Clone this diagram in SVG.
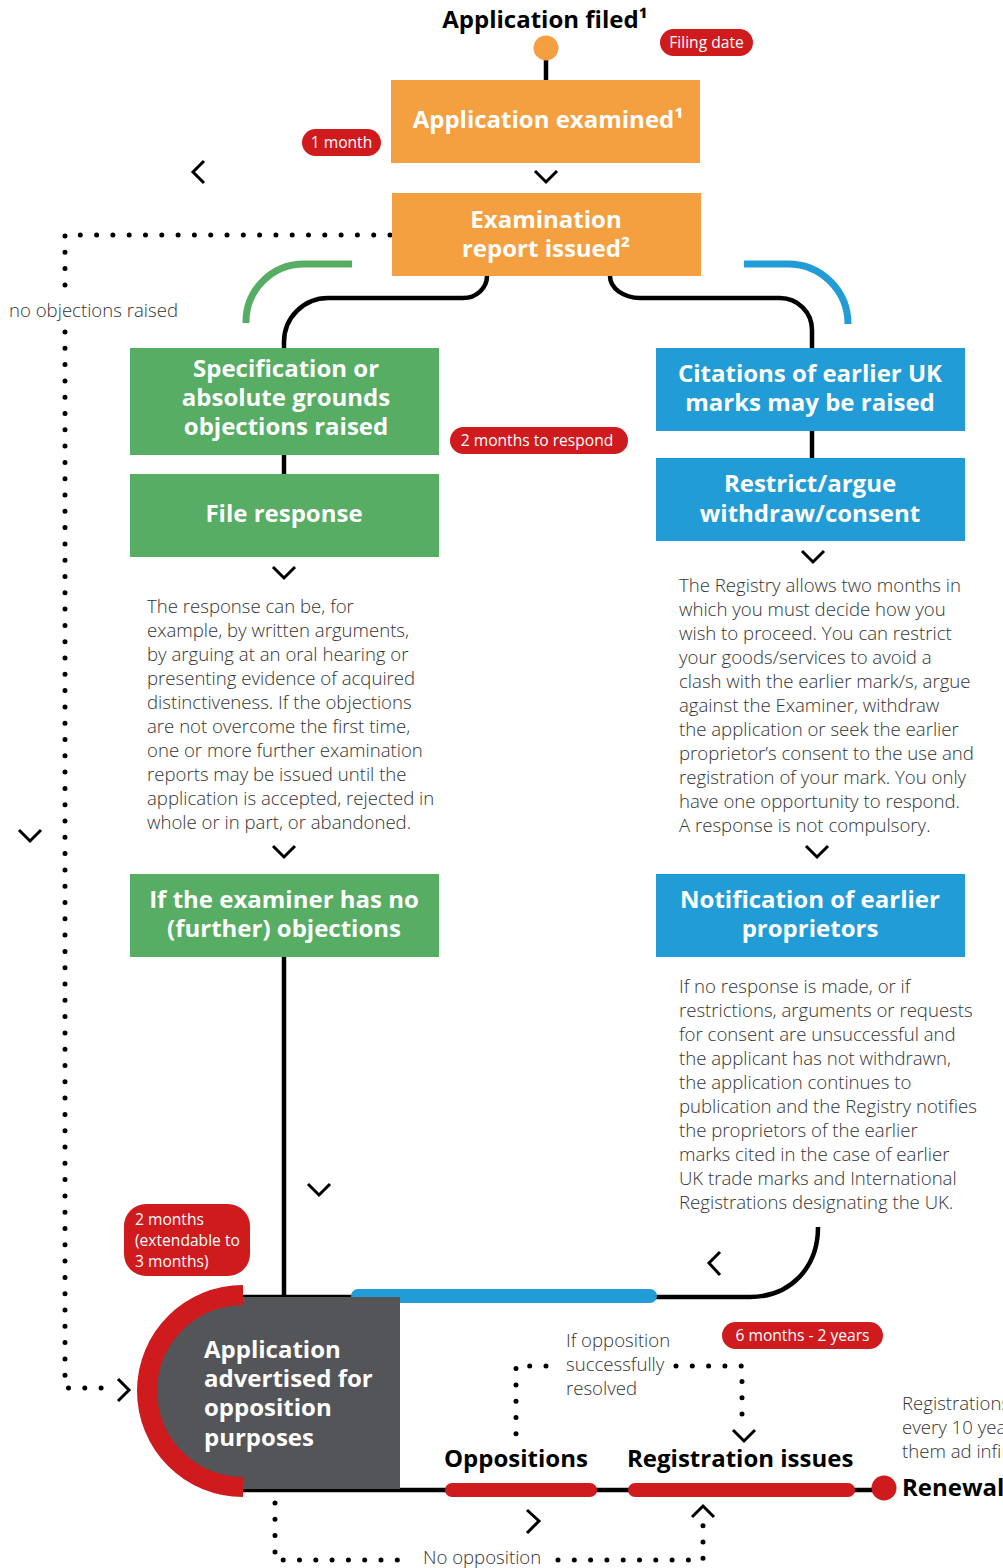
<svg xmlns="http://www.w3.org/2000/svg" width="1003" height="1568" viewBox="0 0 1003 1568">
<style>
.h{font-family:"Open Sans","Noto Sans","Liberation Sans",sans-serif;font-weight:700;fill:#fff;font-size:24px;text-anchor:middle}
.hs{font-family:"Open Sans","Noto Sans","Liberation Sans",sans-serif;font-weight:700;fill:#fff;font-size:24px;text-anchor:start}
.hb{font-family:"Open Sans","Noto Sans","Liberation Sans",sans-serif;font-weight:700;fill:#000;font-size:24px}
.p{font-family:"Open Sans","Noto Sans","Liberation Sans",sans-serif;font-weight:300;fill:#333;font-size:18.6px}
.pill{font-family:"Open Sans","Noto Sans","Liberation Sans",sans-serif;font-weight:400;fill:#fff;font-size:15.6px}
.chev{fill:none;stroke:#000;stroke-width:3}
.dot{fill:none;stroke:#000;stroke-width:5;stroke-linecap:round;stroke-dasharray:0 16.3}
.ln{fill:none;stroke:#000;stroke-width:4.5}
.or{fill:#f5a040}.gr{fill:#57ad64}.bl{fill:#229cd6}.rd{fill:#cf1a1e}
</style>

<g id="connectors">
<line class="ln" x1="546" y1="50" x2="546" y2="80"/>
<path class="ln" d="M487,276 A24,22 0 0 1 463,298 L328,298 A44,44 0 0 0 284,342 L284,348"/>
<path class="ln" d="M610,276 A30,22 0 0 0 640,298 L780,298 A32,32 0 0 1 812,330 L812,348"/>
<path d="M246,323 A58,58 0 0 1 304,264 L352,264" fill="none" stroke="#57ad64" stroke-width="7"/>
<path d="M744,264 L788,264 A60,60 0 0 1 848,324" fill="none" stroke="#229cd6" stroke-width="7"/>
<line class="ln" x1="284" y1="455" x2="284" y2="474"/>
<line class="ln" x1="812" y1="431" x2="812" y2="458"/>
<line class="ln" x1="284" y1="957" x2="284" y2="1297"/>
<path class="ln" d="M818,1227 C818,1268 790,1297 750,1297 L650,1297"/>
<line class="ln" x1="243" y1="1297" x2="360" y2="1297"/>
<line x1="358" y1="1296" x2="650" y2="1296" stroke="#229cd6" stroke-width="14" stroke-linecap="round"/>
<line class="ln" x1="243" y1="1490" x2="884" y2="1490"/>
<line x1="452" y1="1490" x2="590" y2="1490" stroke="#cf1a1e" stroke-width="14" stroke-linecap="round"/>
<line x1="635" y1="1490" x2="848" y2="1490" stroke="#cf1a1e" stroke-width="14" stroke-linecap="round"/>
<path class="dot" d="M390,235 L65,235 L65,300"/>
<path class="dot" d="M65,332 L65,1388 L115,1388"/>
<path class="dot" d="M546,1366 L516,1366 L516,1440"/>
<path class="dot" d="M676,1366 L742,1366 L742,1420"/>
<path class="dot" d="M275,1503 L275,1560 L412,1560"/>
<path class="dot" d="M558,1560 L703,1560 L703,1524"/>
<polyline class="chev" points="535,171 546,182 557,171"/>
<polyline class="chev" points="204,161 193,172 204,183"/>
<polyline class="chev" points="273,567 284,578 295,567"/>
<polyline class="chev" points="273,846 284,857 295,846"/>
<polyline class="chev" points="802,551 813,562 824,551"/>
<polyline class="chev" points="806,846 817,857 828,846"/>
<polyline class="chev" points="19,830 30,841 41,830"/>
<polyline class="chev" points="308,1184 319,1195 330,1184"/>
<polyline class="chev" points="720,1252 709,1263 720,1275"/>
<polyline class="chev" points="118,1379 129,1390 118,1401"/>
<polyline class="chev" points="527,1510 539,1521 527,1533"/>
<polyline class="chev" points="733,1430 744,1441 755,1430"/>
<polyline class="chev" points="692,1517 703,1506 714,1517"/>
</g>

<g id="app-filed">
<text class="hb" x="545" y="28" text-anchor="middle" font-size="23">Application filed¹</text>
<circle cx="546" cy="48" r="12.5" class="or"/>
</g>
<g id="filing-date"><rect x="660" y="29" width="93" height="27" rx="13.5" class="rd"/><text class="pill" x="706.5" y="48" text-anchor="middle">Filing date</text></g>
<g id="one-month"><rect x="302" y="129" width="79" height="27" rx="13.5" class="rd"/><text class="pill" x="341.5" y="148" text-anchor="middle">1 month</text></g>

<g id="examined"><rect x="391" y="80" width="309" height="83" class="or"/><text class="h" x="548" y="128">Application examined¹</text></g>
<g id="report"><rect x="392" y="193" width="309" height="83" class="or"/><text class="h" x="546" y="228">Examination</text><text class="h" x="546" y="257">report issued²</text></g>

<text class="p" x="9" y="317">no objections raised</text>

<g id="spec"><rect x="130" y="348" width="309" height="107" class="gr"/><text class="h" x="286" y="377">Specification or</text><text class="h" x="286" y="406">absolute grounds</text><text class="h" x="286" y="435">objections raised</text></g>
<g id="two-months"><rect x="450" y="427" width="178" height="27" rx="13.5" class="rd"/><text class="pill" x="537" y="446" text-anchor="middle">2 months to respond</text></g>
<g id="file-response"><rect x="130" y="474" width="309" height="83" class="gr"/><text class="h" x="284" y="522">File response</text></g>
<g id="left-text">
<text class="p" x="147" y="613">The response can be, for</text>
<text class="p" x="147" y="637">example, by written arguments,</text>
<text class="p" x="147" y="661">by arguing at an oral hearing or</text>
<text class="p" x="147" y="685">presenting evidence of acquired</text>
<text class="p" x="147" y="709">distinctiveness. If the objections</text>
<text class="p" x="147" y="733">are not overcome the first time,</text>
<text class="p" x="147" y="757">one or more further examination</text>
<text class="p" x="147" y="781">reports may be issued until the</text>
<text class="p" x="147" y="805">application is accepted, rejected in</text>
<text class="p" x="147" y="829">whole or in part, or abandoned.</text>
</g>
<g id="no-further"><rect x="130" y="874" width="309" height="83" class="gr"/><text class="h" x="284" y="908">If the examiner has no</text><text class="h" x="284" y="937">(further) objections</text></g>

<g id="citations"><rect x="656" y="348" width="309" height="83" class="bl"/><text class="h" x="810" y="382">Citations of earlier UK</text><text class="h" x="810" y="411">marks may be raised</text></g>
<g id="restrict"><rect x="656" y="458" width="309" height="83" class="bl"/><text class="h" x="810" y="492">Restrict/argue</text><text class="h" x="810" y="522">withdraw/consent</text></g>
<g id="right-text">
<text class="p" x="679" y="592">The Registry allows two months in</text>
<text class="p" x="679" y="616">which you must decide how you</text>
<text class="p" x="679" y="640">wish to proceed. You can restrict</text>
<text class="p" x="679" y="664">your goods/services to avoid a</text>
<text class="p" x="679" y="688">clash with the earlier mark/s, argue</text>
<text class="p" x="679" y="712">against the Examiner, withdraw</text>
<text class="p" x="679" y="736">the application or seek the earlier</text>
<text class="p" x="679" y="760">proprietor’s consent to the use and</text>
<text class="p" x="679" y="784">registration of your mark. You only</text>
<text class="p" x="679" y="808">have one opportunity to respond.</text>
<text class="p" x="679" y="832">A response is not compulsory.</text>
</g>
<g id="notification"><rect x="656" y="874" width="309" height="83" class="bl"/><text class="h" x="810" y="908">Notification of earlier</text><text class="h" x="810" y="937">proprietors</text></g>
<g id="notif-text">
<text class="p" x="679" y="993">If no response is made, or if</text>
<text class="p" x="679" y="1017">restrictions, arguments or requests</text>
<text class="p" x="679" y="1041">for consent are unsuccessful and</text>
<text class="p" x="679" y="1065">the applicant has not withdrawn,</text>
<text class="p" x="679" y="1089">the application continues to</text>
<text class="p" x="679" y="1113">publication and the Registry notifies</text>
<text class="p" x="679" y="1137">the proprietors of the earlier</text>
<text class="p" x="679" y="1161">marks cited in the case of earlier</text>
<text class="p" x="679" y="1185">UK trade marks and International</text>
<text class="p" x="679" y="1209">Registrations designating the UK.</text>
</g>

<g id="two-three-months"><rect x="124" y="1204" width="126" height="72" rx="22" class="rd"/>
<text class="pill" x="135" y="1225">2 months</text><text class="pill" x="135" y="1246">(extendable to</text><text class="pill" x="135" y="1267">3 months)</text></g>

<g id="advertised">
<path d="M243,1297 A96,96 0 0 0 243,1489 L400,1489 L400,1297 Z" fill="#535559"/>
<path d="M243,1285 A106,106 0 0 0 243,1497 L243,1477 A86,86 0 0 1 243,1305 Z" class="rd"/>
<text class="hs" x="204" y="1358">Application</text>
<text class="hs" x="204" y="1387">advertised for</text>
<text class="hs" x="204" y="1416">opposition</text>
<text class="hs" x="204" y="1446">purposes</text>
</g>

<g id="if-opposition"><text class="p" x="566" y="1347">If opposition</text><text class="p" x="566" y="1371">successfully</text><text class="p" x="566" y="1395">resolved</text></g>
<g id="six-months"><rect x="722" y="1322" width="161" height="27" rx="13.5" class="rd"/><text class="pill" x="802.5" y="1341" text-anchor="middle">6 months - 2 years</text></g>
<g id="oppositions"><text class="hb" x="444" y="1467">Oppositions</text></g>
<g id="registration"><text class="hb" x="627" y="1467">Registration issues</text></g>
<g id="renewal"><circle cx="884" cy="1488" r="12.5" class="rd"/><text class="hb" x="902" y="1496">Renewal</text>
<text class="p" x="902" y="1410">Registrations</text><text class="p" x="902" y="1434">every 10 years</text><text class="p" x="902" y="1458">them ad infinitum</text></g>
<text class="p" x="423" y="1564">No opposition</text>
</svg>
